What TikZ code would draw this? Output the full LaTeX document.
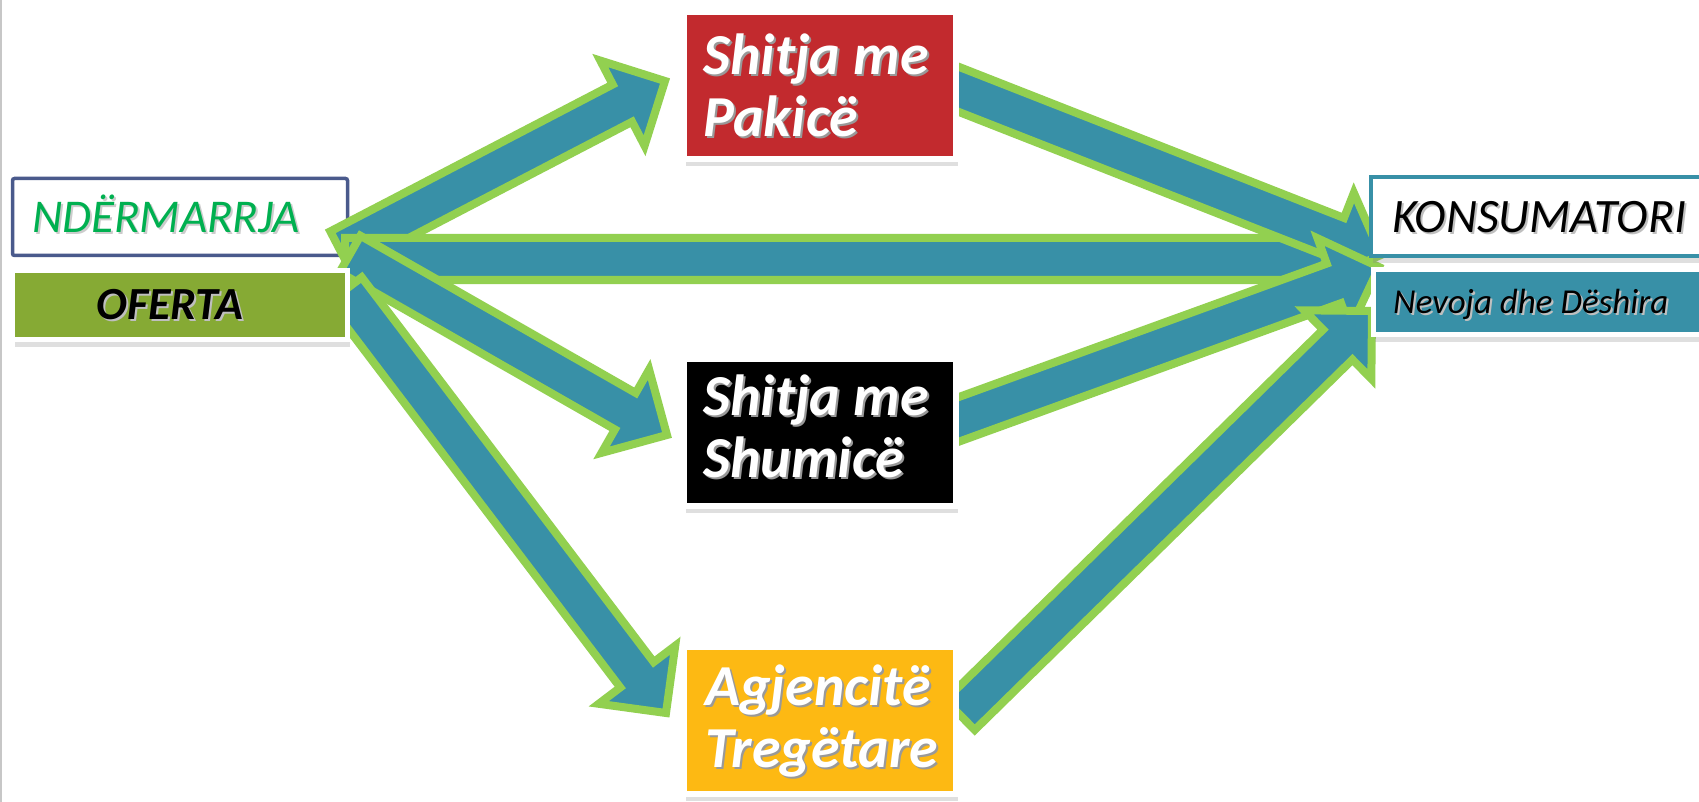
\documentclass[tikz,border=0pt]{standalone}
\usepackage{fontspec}
\setmainfont{Carlito}
\usetikzlibrary{calc,shadows}

\definecolor{flowteal}{HTML}{3890A7}
\definecolor{flowgreen}{HTML}{92D050}
\definecolor{firmblue}{HTML}{4A5A8C}
\definecolor{firmgreen}{HTML}{00B050}
\definecolor{offergreen}{HTML}{86AA34}
\definecolor{retailred}{HTML}{C22A2E}
\definecolor{agencyorange}{HTML}{FDB913}

% text with a small offset shadow behind it
\newcommand\castshadow[2][black!40]{\leavevmode\rlap{\kern2pt\raisebox{-2pt}{\textcolor{#1}{#2}}}#2}

% broad block arrow from #1 (tail centre) to #2 (tip)
\def\fw{21pt}\def\fh{48pt}\def\fl{48pt}
\newcommand\flowarrow[2]{%
  \path[flow] ($(#1)!\fw!90:(#2)$)
    -- ($(#2)!\fl!(#1)!\fw!-90:(#1)$)
    -- ($(#2)!\fl!(#1)!\fh!-90:(#1)$)
    -- (#2)
    -- ($(#2)!\fl!(#1)!\fh!90:(#1)$)
    -- ($(#2)!\fl!(#1)!\fw!90:(#1)$)
    -- ($(#1)!\fw!-90:(#2)$) -- cycle;}

\begin{document}
\begin{tikzpicture}[x=1pt,y=-1pt,
  flow/.style={fill=flowteal,draw=flowgreen,line width=8pt,line join=miter},
  softshadow/.style={drop shadow={shadow xshift=2pt,shadow yshift=-7pt,opacity=0.25}},
  card/.style={draw=white,line width=6pt,minimum width=272pt,minimum height=147pt,inner sep=0pt,
    softshadow},
  cardtext/.style={anchor=base west,inner sep=0pt,align=left,text=white,
    font=\fontsize{58}{62}\selectfont\bfseries\itshape},
  label/.style={anchor=base west,inner sep=0pt},
]
\useasboundingbox (0,0) rectangle (1699,802);
\fill[white] (0,0) rectangle (1699,802);
\draw[black!22,line width=2pt] (1,0) -- (1,802);

% the enterprise (under the arrows)
\node[draw=firmblue,line width=3.5pt,fill=white,rounded corners=2pt,
  minimum width=335pt,minimum height=77pt] (firm) at (180,217) {};
\node[label,text=firmgreen,font=\fontsize{47}{47}\selectfont\itshape]
  (firmlabel) at (32,233) {\castshadow[black!20]{NDËRMARRJA}};

% arrow ends
\coordinate (t1) at (340,250);  \coordinate (h1) at (665,81);
\coordinate (t2) at (345,259);  \coordinate (h2) at (1329,259);
\coordinate (t3) at (350,254);  \coordinate (h3) at (667,435);
\coordinate (t4) at (345,290);  \coordinate (h4) at (666,713);
\coordinate (t5) at (940,82);   \coordinate (h5) at (1381,255);
\coordinate (t6) at (935,428);  \coordinate (h6) at (1379,267);
\coordinate (t7) at (960,715);  \coordinate (h7) at (1372,311);

\flowarrow{t1}{h1}
\flowarrow{t2}{h2}
\flowarrow{t3}{h3}
\flowarrow{t4}{h4}
\flowarrow{t5}{h5}
\flowarrow{t6}{h6}
\flowarrow{t7}{h7}

% the offer
\node[draw=white,line width=5pt,fill=offergreen,minimum width=335pt,minimum height=69pt,
  softshadow] (offer) at (180,305) {};
\node[label,anchor=base,font=\fontsize{46}{46}\selectfont\bfseries\itshape]
  (offerlabel) at (170,319) {\castshadow[black!25]{OFERTA}};

% distribution channels (labels placed by the baseline of their last line)
\node[card,fill=retailred] (retail) at (820,86) {};
\node[cardtext] (retaillabel) at (703,137) {\castshadow{Shitja me}\\\castshadow{Pakicë}};
\node[card,fill=black] (wholesale) at (820,432) {};
\node[cardtext] (wholesalelabel) at (703,477) {\castshadow{Shitja me}\\\castshadow{Shumicë}};
\node[card,fill=agencyorange] (agency) at (820,720.5) {};
\node[cardtext] (agencylabel) at (705,767) {\castshadow{Agjencitë}\\\castshadow{Tregëtare}};

% the consumer
\node[draw=flowteal,line width=4pt,fill=white,minimum width=341pt,minimum height=79pt,
  softshadow] (consumer) at (1541.5,216.5) {};
\node[label,font=\fontsize{48}{48}\selectfont\itshape]
  (consumerlabel) at (1392,233) {\castshadow[black!25]{KONSUMATORI}};
\node[draw=white,line width=5pt,fill=flowteal,minimum width=339pt,minimum height=65pt,
  softshadow] (needs) at (1542.5,302) {};
\node[label,font=\fontsize{35}{35}\selectfont\itshape]
  (needslabel) at (1393,313) {\castshadow[black!25]{Nevoja dhe Dëshira}};
\end{tikzpicture}
\end{document}
